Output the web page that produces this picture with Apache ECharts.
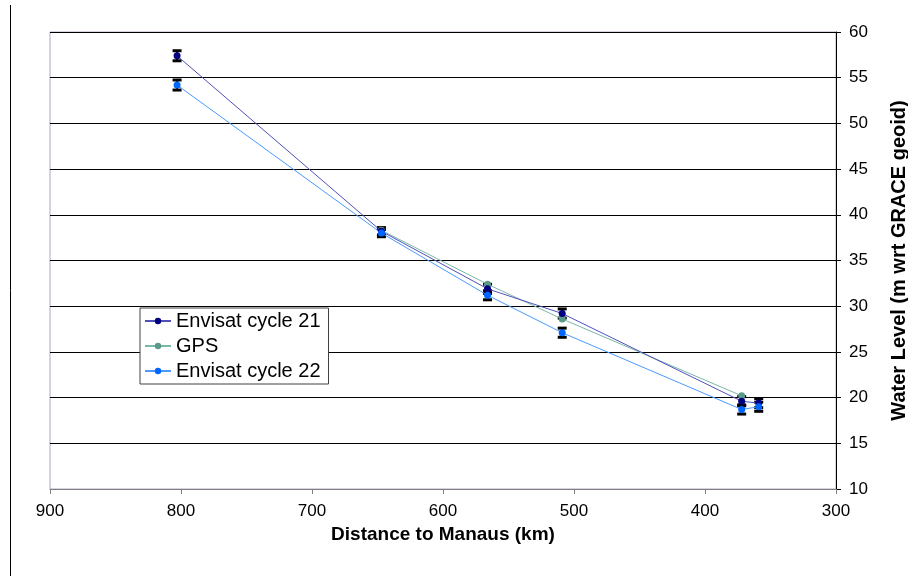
<!DOCTYPE html>
<html>
<head>
<meta charset="utf-8">
<script src="https://cdn.jsdelivr.net/npm/echarts@6/dist/echarts.min.js"></script>
<style>
html,body{margin:0;padding:0;background:#fff;}
#c{width:908px;height:580px;}
</style>
</head>
<body>
<div id="c"></div>
<script>
// Data
var dist21 = [803, 647, 566, 509, 372, 359];
var level21 = [57.4, 38.2, 31.9, 29.2, 19.6, 19.4];
var err21 = [0.55, 0.4, 0.5, 0.5, 0.5, 0.5];

var distGPS = [647, 566, 509, 372];
var levelGPS = [38.3, 32.4, 28.6, 20.2];

var dist22 = [803, 647, 566, 509, 372, 359];
var level22 = [54.2, 38.0, 31.2, 27.1, 18.7, 19.0];
var err22 = [0.55, 0.4, 0.5, 0.5, 0.5, 0.5];

var xTicks = [300, 400, 500, 600, 700, 800, 900];
var yTicks = [10, 15, 20, 25, 30, 35, 40, 45, 50, 55, 60];

function pairs(xs, ys) { return xs.map(function (x, i) { return [x, ys[i]]; }); }
function errData(xs, ys, es) { return xs.map(function (x, i) { return [x, ys[i] - es[i], ys[i] + es[i]]; }); }

var errRender = function (params, api) {
  var lo = api.coord([api.value(0), api.value(1)]);
  var hi = api.coord([api.value(0), api.value(2)]);
  var hw = 4.5;
  return {
    type: 'group',
    children: [
      { type: 'line', shape: { x1: lo[0], y1: lo[1], x2: hi[0], y2: hi[1] }, style: { stroke: '#000', lineWidth: 2 } },
      { type: 'line', shape: { x1: lo[0] - hw, y1: lo[1], x2: lo[0] + hw, y2: lo[1] }, style: { stroke: '#000', lineWidth: 3 } },
      { type: 'line', shape: { x1: hi[0] - hw, y1: hi[1], x2: hi[0] + hw, y2: hi[1] }, style: { stroke: '#000', lineWidth: 3 } }
    ]
  };
};

var chart = echarts.init(document.getElementById('c'));
var font = '"Liberation Sans", Arial, sans-serif';
chart.setOption({
  animation: false,
  backgroundColor: '#fff',
  textStyle: { fontFamily: font },
  grid: { left: 50, right: 72, top: 32, bottom: 91, show: true, borderColor: '#b4a4c4', borderWidth: 1, backgroundColor: '#fff', outerBoundsMode: 'none', containLabel: false },
  graphic: [
    { type: 'line', shape: { x1: 10.5, y1: 5, x2: 10.5, y2: 576 }, style: { stroke: '#000', lineWidth: 1 } }
  ],
  xAxis: {
    type: 'value', inverse: true, min: 300, max: 900, interval: 100,
    name: 'Distance to Manaus (km)', nameLocation: 'middle', nameGap: 27,
    nameTextStyle: { fontSize: 19, fontWeight: 'bold', color: '#000', fontFamily: font },
    axisLine: { show: true, lineStyle: { color: '#808080', width: 1 } },
    axisTick: { show: true, length: 5, lineStyle: { color: '#808080' } },
    axisLabel: { fontSize: 17, color: '#000', margin: 14, fontFamily: font },
    splitLine: { show: false }
  },
  yAxis: {
    type: 'value', position: 'right', min: 10, max: 60, interval: 5,
    name: 'Water Level (m wrt GRACE geoid)', nameLocation: 'middle', nameGap: 53, nameRotate: 90,
    nameTextStyle: { fontSize: 20, fontWeight: 'bold', color: '#000', fontFamily: font },
    axisLine: { show: true, lineStyle: { color: '#000', width: 1 } },
    axisTick: { show: true, length: 5, lineStyle: { color: '#000' } },
    axisLabel: { fontSize: 17, color: '#000', margin: 13, fontFamily: font },
    splitLine: { show: true, lineStyle: { color: '#000', width: 1 } }
  },
  legend: {
    data: ['Envisat cycle 21', 'GPS', 'Envisat cycle 22'],
    orient: 'vertical', left: 140, top: 308,
    backgroundColor: '#fff', borderColor: '#404040', borderWidth: 1,
    padding: [3, 8, 3, 4], itemGap: 5, itemWidth: 26, itemHeight: 8,
    textStyle: { fontSize: 20, lineHeight: 20, color: '#000', fontFamily: font }
  },
  series: [
    { type: 'custom', name: 'err21', renderItem: errRender, data: errData(dist21, level21, err21), z: 1, silent: true },
    { type: 'custom', name: 'err22', renderItem: errRender, data: errData(dist22, level22, err22), z: 1, silent: true },
    { type: 'line', name: 'Envisat cycle 21', data: pairs(dist21, level21), z: 3,
      symbol: 'circle', symbolSize: 7, itemStyle: { color: '#000080' }, lineStyle: { color: '#5050b8', width: 1 } },
    { type: 'line', name: 'GPS', data: pairs(distGPS, levelGPS), z: 2,
      symbol: 'circle', symbolSize: 7, itemStyle: { color: '#5a9a8a' }, lineStyle: { color: '#7ab8a8', width: 1 } },
    { type: 'line', name: 'Envisat cycle 22', data: pairs(dist22, level22), z: 3,
      symbol: 'circle', symbolSize: 7, itemStyle: { color: '#0066ff' }, lineStyle: { color: '#4a9aff', width: 1 } }
  ]
});
</script>
</body>
</html>
